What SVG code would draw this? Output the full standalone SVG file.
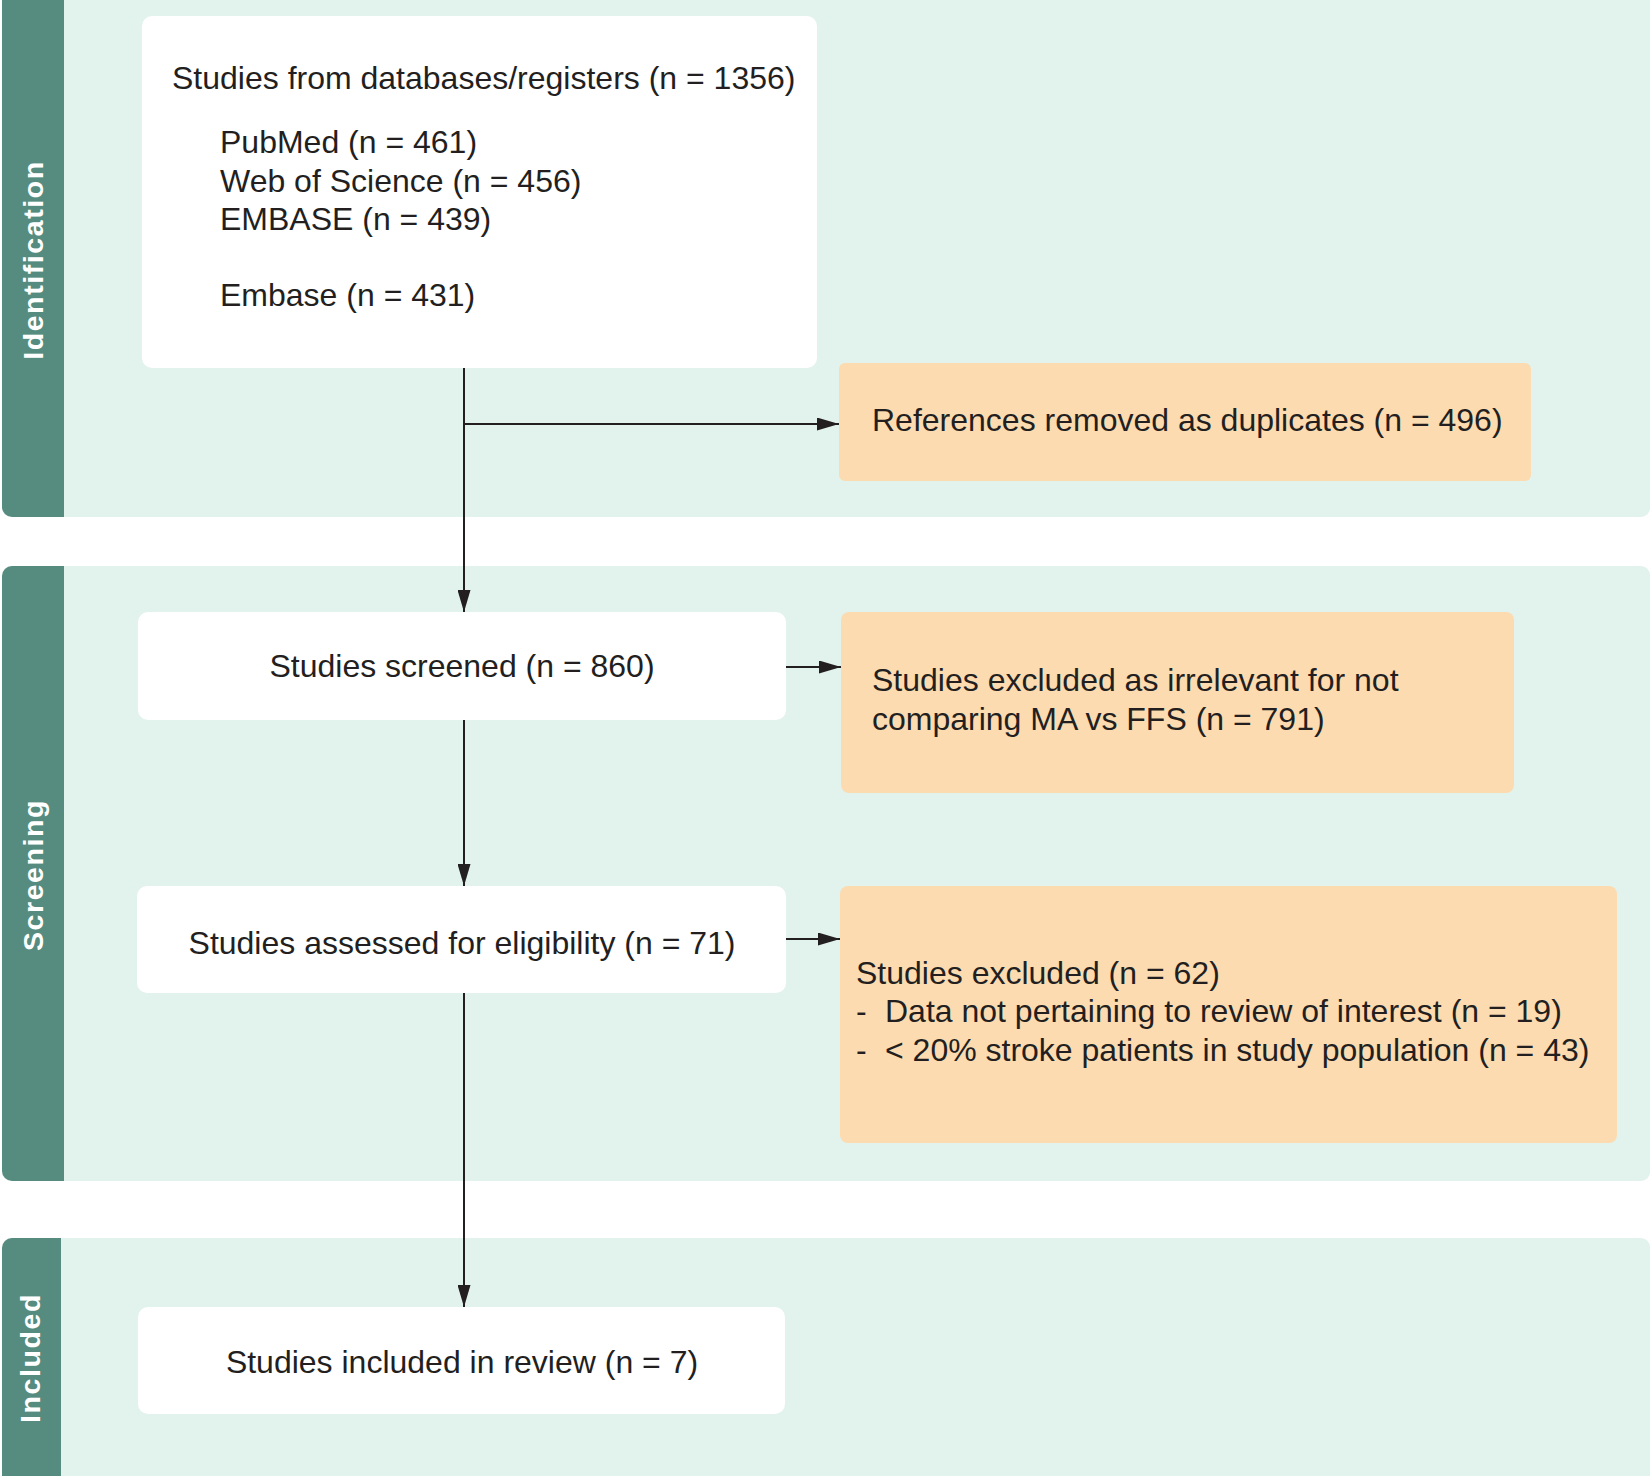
<svg xmlns="http://www.w3.org/2000/svg" width="1652" height="1476" viewBox="0 0 1652 1476">
<style>
.panel{fill:#e2f2ec}
.side{fill:#568c80}
.side-label{font-family:"Liberation Sans",Arial,sans-serif;font-weight:bold;font-size:28.5px;letter-spacing:1.6px;fill:#ffffff;text-anchor:middle}
.box{fill:#ffffff}
.excl{fill:#fcdbb0}
.t{font-family:"Liberation Sans",Arial,sans-serif;font-size:32px;fill:#231f20}
.c{text-anchor:middle}
.conn{stroke:#231f20;stroke-width:2;fill:none}
</style>
<defs>
<marker id="arr" markerUnits="userSpaceOnUse" markerWidth="22" markerHeight="13" viewBox="0 0 22 13" refX="22" refY="6.5" orient="auto">
<path d="M0,0 L22,6.5 L0,13 Z" fill="#231f20"/>
</marker>
</defs>
<rect width="1652" height="1476" fill="#ffffff"/>

<g id="stage-identification">
<rect class="panel" x="2" y="-20" width="1648" height="537" rx="9"/>
<path class="side" d="M12,-20 H64 V517 H12 A10 10 0 0 1 2 507 V-10 A10 10 0 0 1 12 -20 Z"/>
<text class="side-label" transform="translate(43,260) rotate(-90)">Identification</text>
</g>
<g id="stage-screening">
<rect class="panel" x="2" y="566" width="1648" height="615" rx="9"/>
<path class="side" d="M12,566 H64 V1181 H12 A10 10 0 0 1 2 1171 V576 A10 10 0 0 1 12 566 Z"/>
<text class="side-label" transform="translate(43,875) rotate(-90)">Screening</text>
</g>
<g id="stage-included">
<rect class="panel" x="2" y="1238" width="1648" height="260" rx="9"/>
<path class="side" d="M12,1238 H61 V1498 H12 A10 10 0 0 1 2 1488 V1248 A10 10 0 0 1 12 1238 Z"/>
<text class="side-label" transform="translate(40,1358) rotate(-90)">Included</text>
</g>

<g id="node-databases">
<rect class="box" x="142" y="16" width="675" height="352" rx="10"/>
<text class="t" x="172" y="89">Studies from databases/registers (n = 1356)</text>
<text class="t" x="220" y="153">PubMed (n = 461)</text>
<text class="t" x="220" y="192">Web of Science (n = 456)</text>
<text class="t" x="220" y="230">EMBASE (n = 439)</text>
<text class="t" x="220" y="306">Embase (n = 431)</text>
</g>
<g id="node-duplicates">
<rect class="excl" x="839" y="363" width="692" height="118" rx="6"/>
<text class="t" x="872" y="431">References removed as duplicates (n = 496)</text>
</g>
<g id="node-screened">
<rect class="box" x="138" y="612" width="648" height="108" rx="10"/>
<text class="t c" x="462" y="677">Studies screened (n = 860)</text>
</g>
<g id="node-excluded-irrelevant">
<rect class="excl" x="841" y="612" width="673" height="181" rx="8"/>
<text class="t" x="872" y="691">Studies excluded as irrelevant for not</text>
<text class="t" x="872" y="730">comparing MA vs FFS (n = 791)</text>
</g>
<g id="node-eligibility">
<rect class="box" x="137" y="886" width="649" height="107" rx="10"/>
<text class="t c" x="462" y="954">Studies assessed for eligibility (n = 71)</text>
</g>
<g id="node-excluded">
<rect class="excl" x="840" y="886" width="777" height="257" rx="8"/>
<text class="t" x="856" y="984">Studies excluded (n = 62)</text>
<text class="t" x="856" y="1022">-</text>
<text class="t" x="885" y="1022">Data not pertaining to review of interest (n = 19)</text>
<text class="t" x="856" y="1061">-</text>
<text class="t" x="885" y="1061">&lt; 20% stroke patients in study population (n = 43)</text>
</g>
<g id="node-included">
<rect class="box" x="138" y="1307" width="647" height="107" rx="10"/>
<text class="t c" x="462" y="1373">Studies included in review (n = 7)</text>
</g>

<g id="connectors">
<line class="conn" x1="464" y1="368" x2="464" y2="612" marker-end="url(#arr)"/>
<line class="conn" x1="464" y1="424" x2="839" y2="424" marker-end="url(#arr)"/>
<line class="conn" x1="464" y1="720" x2="464" y2="886" marker-end="url(#arr)"/>
<line class="conn" x1="786" y1="667" x2="841" y2="667" marker-end="url(#arr)"/>
<line class="conn" x1="786" y1="939" x2="840" y2="939" marker-end="url(#arr)"/>
<line class="conn" x1="464" y1="993" x2="464" y2="1307" marker-end="url(#arr)"/>
</g>
</svg>
